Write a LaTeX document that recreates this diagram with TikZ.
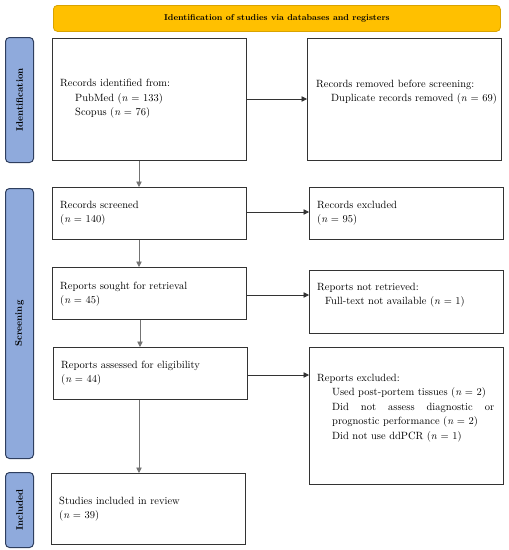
\documentclass[tikz,border=0pt]{standalone}
\usetikzlibrary{arrows.meta}
\definecolor{bannerfill}{HTML}{FFC000}
\definecolor{bannerline}{HTML}{D9A300}
\definecolor{sidefill}{HTML}{8FAADC}
\definecolor{sideline}{HTML}{2F3F5F}
\tikzset{
  box/.style={draw=black!80, line width=0.9pt, anchor=north west, inner sep=0pt},
  txt/.style={anchor=west, align=left, inner sep=0pt, font=\fontsize{10.5}{14.5}\selectfont},
  side/.style={draw=sideline, fill=sidefill, line width=1pt, rounded corners=4pt, anchor=north west, inner sep=0pt},
  sidetxt/.style={rotate=90, font=\bfseries\fontsize{9.5}{11}\selectfont},
  conn/.style={-{Triangle[length=5.5pt,width=5.5pt]}, line width=0.8pt, draw=black!80},
  vconn/.style={-{Triangle[length=5.5pt,width=5.5pt]}, line width=0.8pt, draw=black!55},
}
\begin{document}
\begin{tikzpicture}[x=1pt,y=-1pt]
\useasboundingbox (0,0) rectangle (509,550);
% banner
\node[draw=bannerline, fill=bannerfill, line width=0.8pt, rounded corners=4pt, anchor=north west, minimum width=447pt, minimum height=26pt, inner sep=0pt] (banner) at (53,5) {};
\node[font=\bfseries\fontsize{8.5}{10}\selectfont] (bannertxt) at (banner.center) {Identification of studies via databases and registers};
% side labels
\node[side, minimum width=28pt, minimum height=125pt] (sideid) at (5,37) {};
\node[sidetxt] (sideidtxt) at (sideid.center) {Identification};
\node[side, minimum width=28pt, minimum height=270pt] (sidescr) at (5,188) {};
\node[sidetxt] (sidescrtxt) at (sidescr.center) {Screening};
\node[side, minimum width=28pt, minimum height=75pt] (sideinc) at (5,472) {};
\node[sidetxt] (sideinctxt) at (sideinc.center) {Included};
% boxes
\node[box, minimum width=194pt, minimum height=122pt] (b1) at (52,38) {};
\node[box, minimum width=194pt, minimum height=122pt] (b2) at (307,38) {};
\node[box, minimum width=194pt, minimum height=52pt] (b3) at (52,187) {};
\node[box, minimum width=194pt, minimum height=52pt] (b4) at (309,187) {};
\node[box, minimum width=194pt, minimum height=52pt] (b5) at (52,267) {};
\node[box, minimum width=194pt, minimum height=63pt] (b6) at (309,270) {};
\node[box, minimum width=194pt, minimum height=52pt] (b7) at (53,347) {};
\node[box, minimum width=194pt, minimum height=137pt] (b8) at (309,347) {};
\node[box, minimum width=194pt, minimum height=71pt] (b9) at (51,473) {};
% texts
\node[txt] (t1) at (60,99) {Records identified from:\\\hspace*{15pt}PubMed (\textit{n} = 133)\\\hspace*{15pt}Scopus (\textit{n} = 76)};
\node[txt] (t2) at (316,92) {Records removed before screening:\\\hspace*{15pt}Duplicate records removed (\textit{n} = 69)};
\node[txt] (t3) at (60,213) {Records screened\\(\textit{n} = 140)};
\node[txt] (t4) at (317,213) {Records excluded\\(\textit{n} = 95)};
\node[txt] (t5) at (60,294) {Reports sought for retrieval\\(\textit{n} = 45)};
\node[txt] (t6) at (317,295) {Reports not retrieved:\\\hspace*{8pt}Full-text not available (\textit{n} = 1)};
\node[txt] (t7) at (61,373) {Reports assessed for eligibility\\(\textit{n} = 44)};
\node[txt, anchor=north west] (t8) at (317,374) {Reports excluded:\\
  \hspace*{15pt}Used post-portem tissues (\textit{n} = 2)\\
  \hspace*{15pt}\makebox[162pt][s]{Did not assess diagnostic or}\\
  \hspace*{15pt}prognostic performance (\textit{n} = 2)\\
  \hspace*{15pt}Did not use ddPCR (\textit{n} = 1)};
\node[txt] (t9) at (59,509) {Studies included in review\\(\textit{n} = 39)};
% connectors
\draw[conn] (b1.east |- 0,99) -- (b2.west |- 0,99);
\draw[conn] (b3.east |- 0,212) -- (b4.west |- 0,212);
\draw[conn] (b5.east |- 0,295) -- (b6.west |- 0,295);
\draw[conn] (b7.east |- 0,375) -- (b8.west |- 0,375);
\draw[vconn] (b1.south -| 139,0) -- (b3.north -| 139,0);
\draw[vconn] (b3.south -| 139,0) -- (b5.north -| 139,0);
\draw[vconn] (b5.south -| 140,0) -- (b7.north -| 140,0);
\draw[vconn] (b7.south -| 139,0) -- (b9.north -| 139,0);
\end{tikzpicture}
\end{document}
